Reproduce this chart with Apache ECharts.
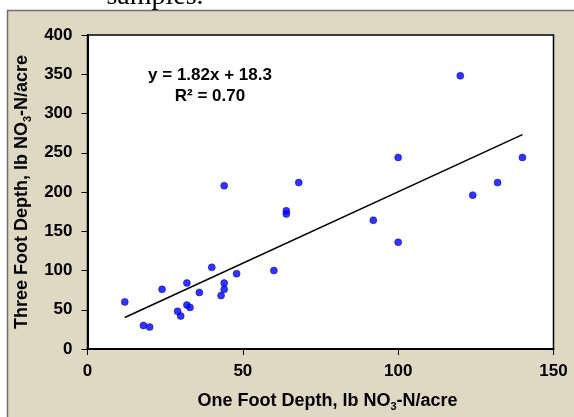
<!DOCTYPE html>
<html>
<head>
<meta charset="utf-8">
<script src="https://cdn.jsdelivr.net/npm/echarts@6/dist/echarts.min.js"></script>
<style>html,body{margin:0;padding:0;background:#fff;}#c{width:574px;height:417px;}</style>
</head>
<body>
<div id="c"></div>
<script>
// Data
const oneFoot   = [12, 18, 20, 24, 29, 30, 32, 32, 33, 36, 40, 43, 44, 44, 44, 48, 60, 64, 64, 68, 92, 100, 100, 120, 124, 132, 140];
const threeFoot = [60, 30, 28, 76, 48, 42, 84, 56, 53, 72, 104, 68, 76, 84, 208, 96, 100, 176, 172, 212, 164, 136, 244, 348, 196, 212, 244];
const trendSlope = 1.82;
const trendIntercept = 18.3;
const rSquared = '0.70';
const xTicks = [0, 50, 100, 150];
const yTicks = [0, 50, 100, 150, 200, 250, 300, 350, 400];

const points = oneFoot.map((x, i) => [x, threeFoot[i]]);
const xMin = Math.min(...oneFoot), xMax = Math.max(...oneFoot);
const trend = [[xMin, trendSlope * xMin + trendIntercept], [xMax, trendSlope * xMax + trendIntercept]];

const font = '"Liberation Sans", Arial, sans-serif';
const titleRich = {
  a: { fontFamily: font, fontWeight: 'bold', fontSize: 18, color: '#000', lineHeight: 22 },
  s: { fontFamily: font, fontWeight: 'bold', fontSize: 11, color: '#000', lineHeight: 11, verticalAlign: 'bottom' }
};

const chart = echarts.init(document.getElementById('c'), null, { renderer: 'canvas' });
chart.setOption({
  backgroundColor: '#DDD9C3',
  animation: false,
  grid: {
    left: 87.5, right: 20.5, top: 35, bottom: 62,
    show: true, backgroundColor: '#ffffff', borderColor: '#000', borderWidth: 1.5
  },
  xAxis: {
    type: 'value', min: xTicks[0], max: xTicks[xTicks.length - 1], interval: xTicks[1] - xTicks[0],
    axisLine: { show: true, onZero: false, lineStyle: { color: '#000', width: 2 } },
    axisTick: { show: true, length: 6, lineStyle: { color: '#000', width: 1 } },
    splitLine: { show: false },
    axisLabel: { fontFamily: font, fontWeight: 'bold', fontSize: 17, color: '#000', margin: 14 },
    name: '{a|One Foot Depth, lb NO}{s|3}{a|-N/acre}',
    nameLocation: 'middle', nameGap: 41,
    nameTextStyle: { rich: titleRich, padding: [0, 0, 0, 14] }
  },
  yAxis: {
    type: 'value', min: yTicks[0], max: yTicks[yTicks.length - 1], interval: yTicks[1] - yTicks[0],
    axisLine: { show: true, onZero: false, lineStyle: { color: '#000', width: 2 } },
    axisTick: { show: true, length: 6, lineStyle: { color: '#000', width: 1 } },
    splitLine: { show: false },
    axisLabel: { fontFamily: font, fontWeight: 'bold', fontSize: 17, color: '#000', margin: 15 },
    name: '{a|Three Foot Depth, lb NO}{s|3}{a|-N/acre}',
    nameLocation: 'middle', nameGap: 51,
    nameTextStyle: { rich: titleRich }
  },
  graphic: [
    { type: 'rect', shape: { x: 0, y: 0, width: 574, height: 10 }, style: { fill: '#fff' }, silent: true },
    { type: 'rect', shape: { x: 0, y: 0, width: 7, height: 417 }, style: { fill: '#fff' }, silent: true },
    { type: 'line', shape: { x1: 7, y1: 10.5, x2: 574, y2: 10.5 }, style: { stroke: '#6f6f6f', lineWidth: 1.5 }, silent: true },
    { type: 'line', shape: { x1: 7.5, y1: 10, x2: 7.5, y2: 417 }, style: { stroke: '#6f6f6f', lineWidth: 1.5 }, silent: true },
    { type: 'text', x: 155, y: -3.5, style: { text: 'samples.', font: '28px "Liberation Serif", "Times New Roman", serif', fill: '#000', align: 'center', verticalAlign: 'middle' }, silent: true },
    { type: 'text', x: 210, y: 86, style: {
        text: 'y = ' + trendSlope.toFixed(2) + 'x + ' + trendIntercept.toFixed(1) + '\nR² = ' + rSquared,
        font: 'bold 17px "Liberation Sans", Arial, sans-serif', fill: '#000', align: 'center', verticalAlign: 'middle', lineHeight: 21
      }, silent: true }
  ],
  series: [
    {
      type: 'scatter', data: points, symbol: 'circle', symbolSize: 7,
      itemStyle: { color: '#0000FF', borderColor: '#00008B', borderWidth: 0.6 }, z: 3
    },
    {
      type: 'line', data: trend, showSymbol: false, symbol: 'none',
      lineStyle: { color: '#000', width: 1.5 }, z: 2, silent: true
    }
  ]
});
</script>
</body>
</html>
